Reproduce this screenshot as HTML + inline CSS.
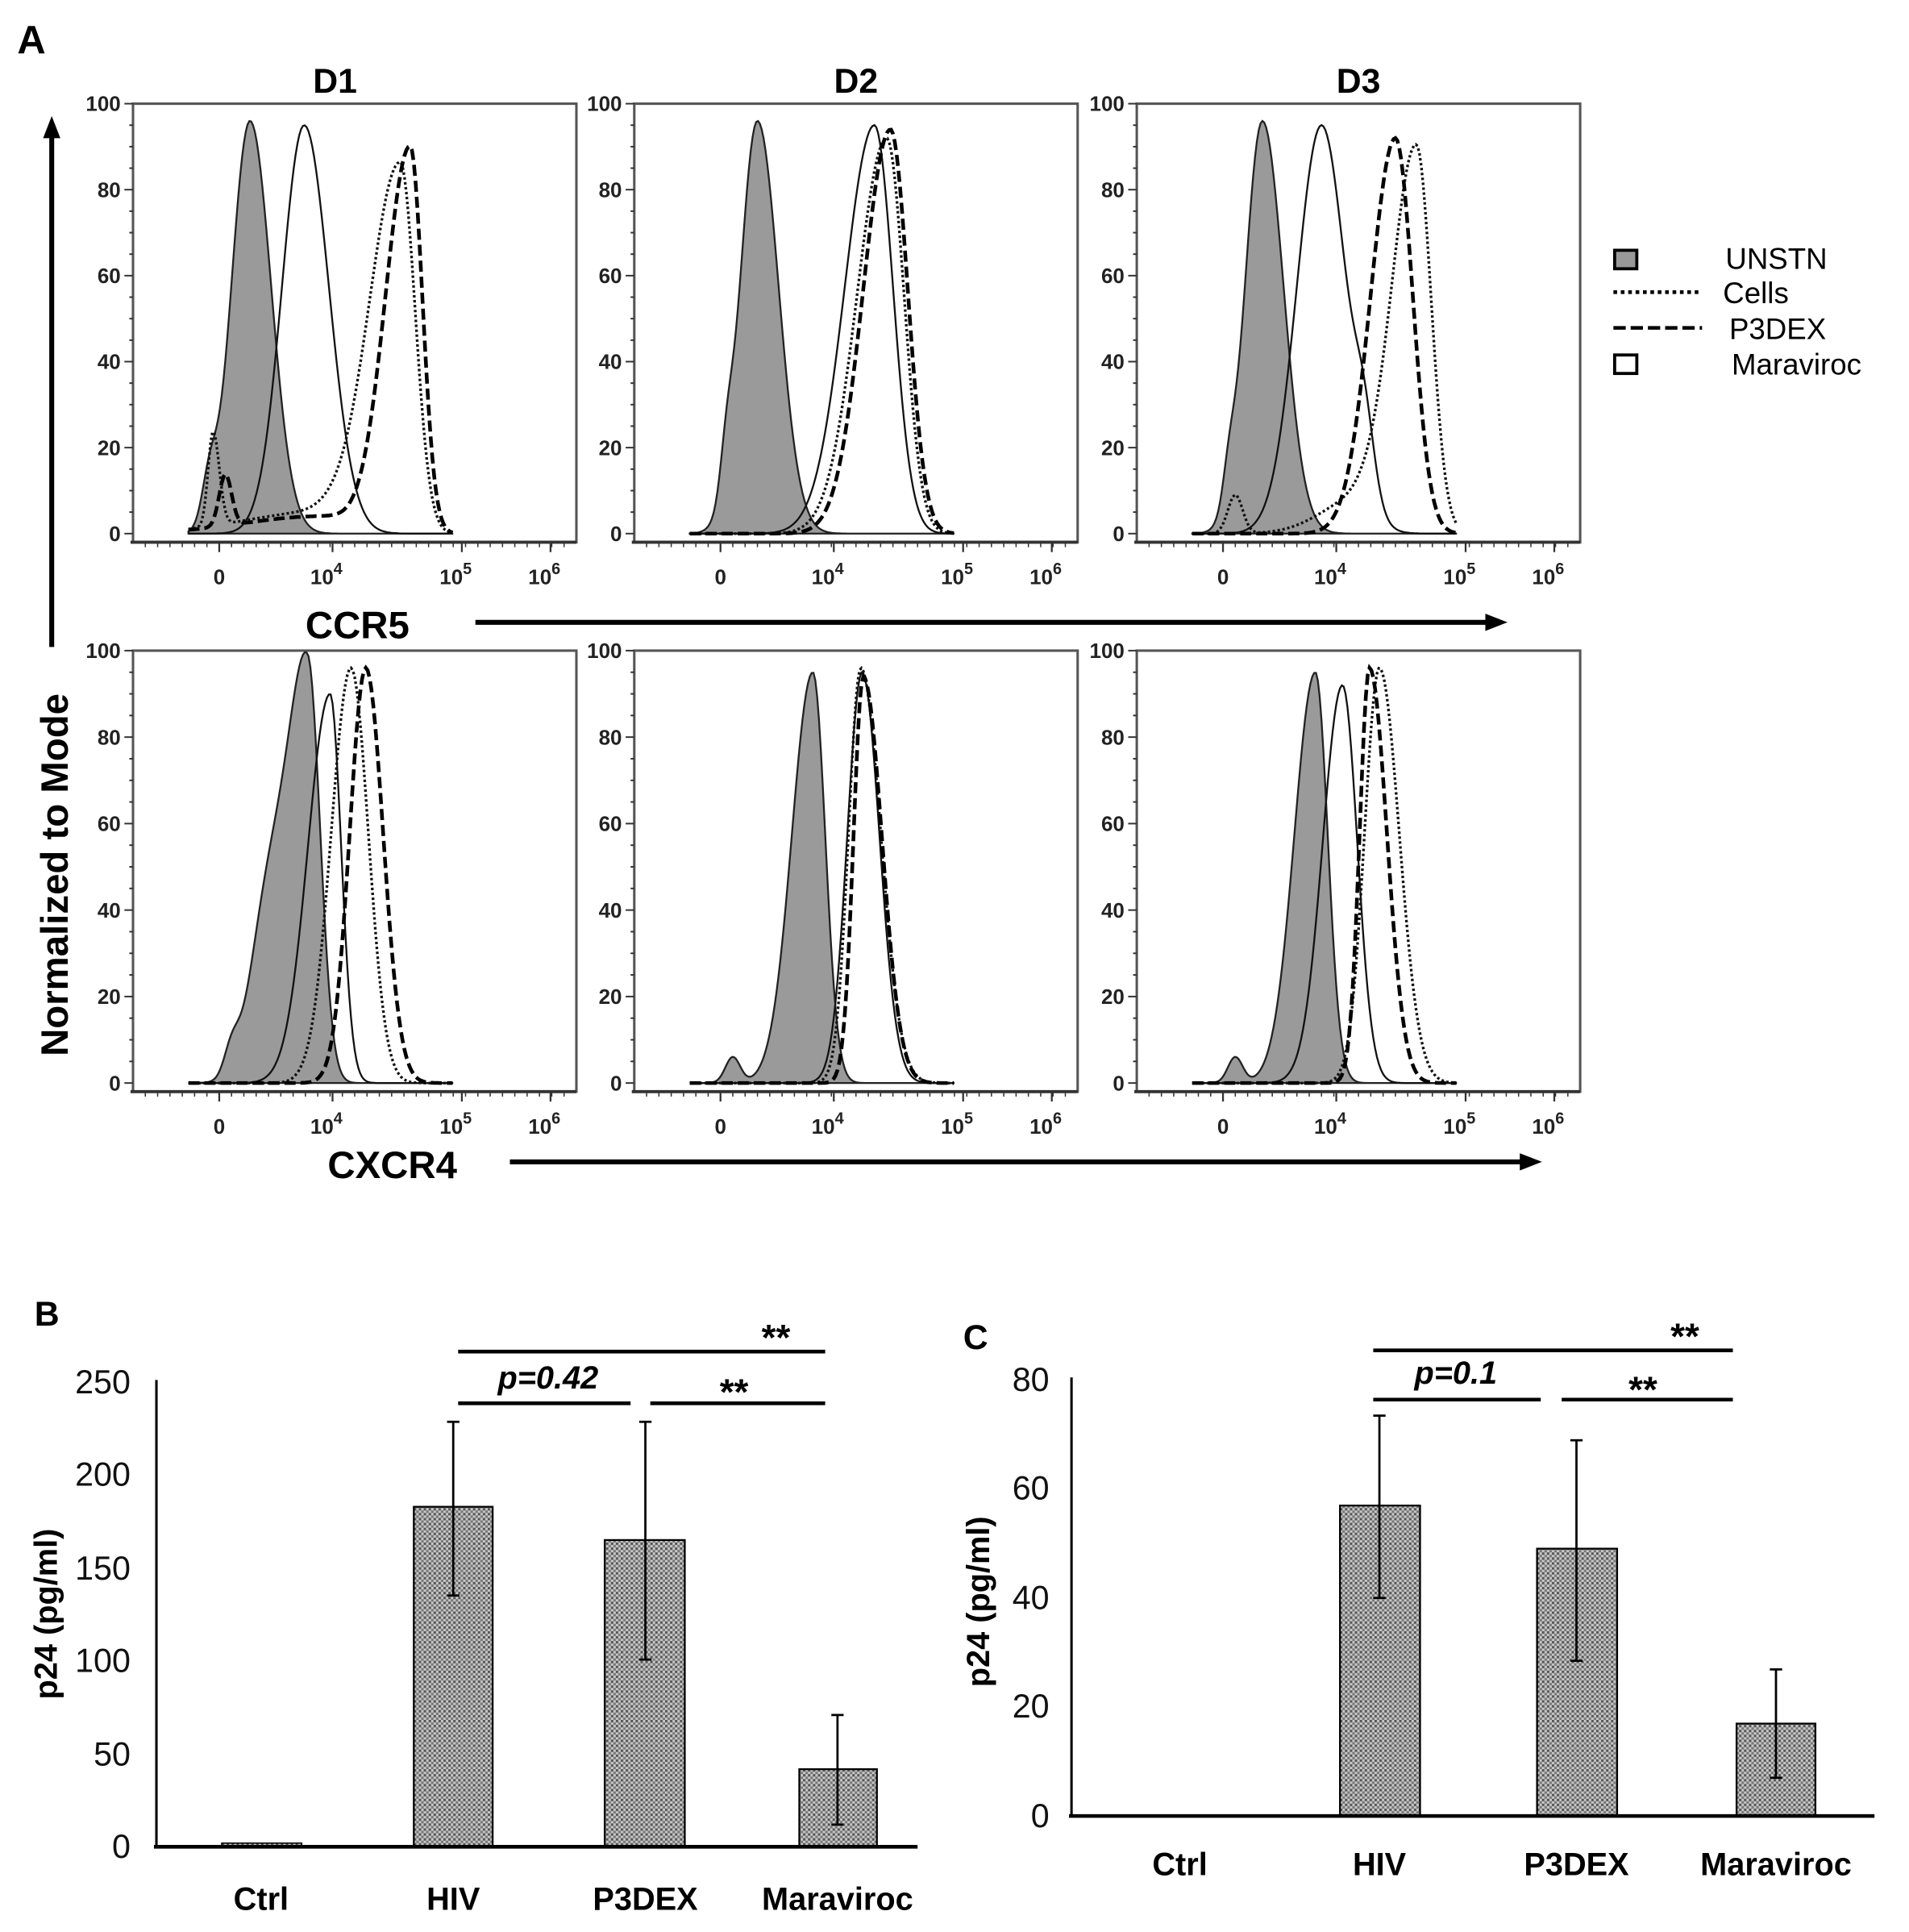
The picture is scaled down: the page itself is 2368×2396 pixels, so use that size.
<!DOCTYPE html>
<html><head><meta charset="utf-8">
<style>
html,body{margin:0;padding:0;background:#fff;}
svg{display:block;}
text{font-family:"Liberation Sans",Arial,sans-serif;}
.b{font-weight:bold;}
.tk{font-size:17px;font-weight:bold;fill:#222;}
.ax{font-size:27px;fill:#111;}
.cat{font-size:26px;font-weight:bold;}
</style></head>
<body>
<svg id="s" width="2368" height="2396" viewBox="0 0 1550 1568" xmlns="http://www.w3.org/2000/svg">
<defs>
<pattern id="pt" width="4" height="4" patternUnits="userSpaceOnUse">
<rect width="4" height="4" fill="#c8c8c8"/>
<rect width="2" height="2" fill="#555"/>
<rect x="2" y="2" width="2" height="2" fill="#777"/>
</pattern>
</defs>
<text x="14" y="43" class="b" font-size="32">A</text>
<text x="272" y="75" class="b" font-size="28" text-anchor="middle">D1</text>
<text x="695" y="75" class="b" font-size="28" text-anchor="middle">D2</text>
<text x="1103" y="75" class="b" font-size="28" text-anchor="middle">D3</text>
<g id="plots"></g>
<!-- axis labels / arrows -->
<line x1="42" y1="525" x2="42" y2="108" stroke="#000" stroke-width="4"/>
<polygon points="42,94 35,112 49,112" fill="#000"/>
<text transform="translate(55,710) rotate(-90)" class="b" font-size="31" text-anchor="middle">Normalized to Mode</text>
<text x="248" y="518" class="b" font-size="31">CCR5</text>
<line x1="386" y1="505" x2="1208" y2="505" stroke="#000" stroke-width="4"/>
<polygon points="1224,505 1206,498 1206,512" fill="#000"/>
<text x="266" y="956" class="b" font-size="31">CXCR4</text>
<line x1="414" y1="943" x2="1236" y2="943" stroke="#000" stroke-width="4"/>
<polygon points="1252,943 1234,936 1234,950" fill="#000"/>
<!-- legend -->
<rect x="1311" y="203" width="18" height="15" fill="#999" stroke="#000" stroke-width="2.5"/>
<text x="1401" y="218" font-size="24">UNSTN</text>
<line x1="1310" y1="237" x2="1382" y2="237" stroke="#000" stroke-width="3" stroke-dasharray="3,3"/>
<text x="1399" y="246" font-size="24">Cells</text>
<line x1="1310" y1="266" x2="1382" y2="266" stroke="#000" stroke-width="3" stroke-dasharray="10,4"/>
<text x="1404" y="275" font-size="24">P3DEX</text>
<rect x="1311" y="288" width="18" height="15" fill="#fff" stroke="#000" stroke-width="2.5"/>
<text x="1406" y="304" font-size="24">Maraviroc</text>

<!-- Panel B -->
<text x="28" y="1076" class="b" font-size="28">B</text>
<text transform="translate(46,1310) rotate(-90)" class="b" font-size="26" text-anchor="middle">p24 (pg/ml)</text>
<g class="ax" text-anchor="end">
<text x="106" y="1131">250</text><text x="106" y="1206">200</text><text x="106" y="1282">150</text>
<text x="106" y="1357">100</text><text x="106" y="1433">50</text><text x="106" y="1508">0</text>
</g>
<line x1="127" y1="1120" x2="127" y2="1500" stroke="#000" stroke-width="2"/>
<rect x="180" y="1496" width="65" height="3" fill="url(#pt)" stroke="#000"/>
<rect x="336" y="1223" width="64" height="276" fill="url(#pt)" stroke="#000" stroke-width="1.5"/>
<rect x="491" y="1250" width="65" height="249" fill="url(#pt)" stroke="#000" stroke-width="1.5"/>
<rect x="649" y="1436" width="63" height="63" fill="url(#pt)" stroke="#000" stroke-width="1.5"/>
<line x1="125" y1="1499" x2="745" y2="1499" stroke="#000" stroke-width="3"/>
<g stroke="#000" stroke-width="1.8">
<line x1="368" y1="1154" x2="368" y2="1295"/><line x1="363" y1="1154" x2="373" y2="1154"/><line x1="363" y1="1295" x2="373" y2="1295"/>
<line x1="524" y1="1154" x2="524" y2="1347"/><line x1="519" y1="1154" x2="529" y2="1154"/><line x1="519" y1="1347" x2="529" y2="1347"/>
<line x1="680" y1="1392" x2="680" y2="1481"/><line x1="675" y1="1392" x2="685" y2="1392"/><line x1="675" y1="1481" x2="685" y2="1481"/>
</g>
<g stroke="#000" stroke-width="3">
<line x1="372" y1="1097" x2="670" y2="1097"/>
<line x1="372" y1="1139" x2="512" y2="1139"/><line x1="528" y1="1139" x2="670" y2="1139"/>
</g>
<text x="630" y="1096" class="b" font-size="30" text-anchor="middle">**</text>
<text x="596" y="1140" class="b" font-size="30" text-anchor="middle">**</text>
<text x="445" y="1127" class="b" font-size="26" font-style="italic" text-anchor="middle">p=0.42</text>
<g class="cat" text-anchor="middle">
<text x="212" y="1550">Ctrl</text><text x="368" y="1550">HIV</text><text x="524" y="1550">P3DEX</text><text x="680" y="1550">Maraviroc</text>
</g>

<!-- Panel C -->
<text x="782" y="1095" class="b" font-size="28">C</text>
<text transform="translate(803,1300) rotate(-90)" class="b" font-size="26" text-anchor="middle">p24 (pg/ml)</text>
<g class="ax" text-anchor="end">
<text x="852" y="1129">80</text><text x="852" y="1217">60</text><text x="852" y="1306">40</text>
<text x="852" y="1394">20</text><text x="852" y="1483">0</text>
</g>
<line x1="870" y1="1118" x2="870" y2="1475" stroke="#000" stroke-width="2"/>
<rect x="1088" y="1222" width="65" height="252" fill="url(#pt)" stroke="#000" stroke-width="1.5"/>
<rect x="1248" y="1257" width="65" height="217" fill="url(#pt)" stroke="#000" stroke-width="1.5"/>
<rect x="1410" y="1399" width="64" height="75" fill="url(#pt)" stroke="#000" stroke-width="1.5"/>
<line x1="868" y1="1474" x2="1522" y2="1474" stroke="#000" stroke-width="3"/>
<g stroke="#000" stroke-width="1.8">
<line x1="1120" y1="1149" x2="1120" y2="1297"/><line x1="1115" y1="1149" x2="1125" y2="1149"/><line x1="1115" y1="1297" x2="1125" y2="1297"/>
<line x1="1280" y1="1169" x2="1280" y2="1348"/><line x1="1275" y1="1169" x2="1285" y2="1169"/><line x1="1275" y1="1348" x2="1285" y2="1348"/>
<line x1="1442" y1="1355" x2="1442" y2="1443"/><line x1="1437" y1="1355" x2="1447" y2="1355"/><line x1="1437" y1="1443" x2="1447" y2="1443"/>
</g>
<g stroke="#000" stroke-width="3">
<line x1="1115" y1="1096" x2="1407" y2="1096"/>
<line x1="1115" y1="1136" x2="1251" y2="1136"/><line x1="1268" y1="1136" x2="1407" y2="1136"/>
</g>
<text x="1368" y="1095" class="b" font-size="30" text-anchor="middle">**</text>
<text x="1334" y="1138" class="b" font-size="30" text-anchor="middle">**</text>
<text x="1182" y="1123" class="b" font-size="26" font-style="italic" text-anchor="middle">p=0.1</text>
<g class="cat" text-anchor="middle">
<text x="958" y="1522">Ctrl</text><text x="1120" y="1522">HIV</text><text x="1280" y="1522">P3DEX</text><text x="1442" y="1522">Maraviroc</text>
</g>
</svg>
<script>
(function(){
var NS="http://www.w3.org/2000/svg",g=document.getElementById("plots");
function el(n,a){var e=document.createElementNS(NS,n);for(var k in a)e.setAttribute(k,a[k]);g.appendChild(e);return e;}
function txt(x,y,t,a,cls,sup){var e=el("text",{x:x,y:y,"text-anchor":a,"class":cls});e.textContent=t;if(sup){var s=document.createElementNS(NS,"tspan");s.setAttribute("dy","-8");s.setAttribute("font-size","13");s.textContent=sup;e.appendChild(s);}return e;}
function curve(L,top,bot,comps){
  var pts=[];var h=(bot-top-7)/100;var base=bot-7;
  for(var rx=45;rx<=260;rx+=1.5){var v=0;
    comps.forEach(function(c){var s=rx<c[0]?c[2]:c[3];v+=c[1]*Math.exp(-0.5*Math.pow((rx-c[0])/s,2));});
    pts.push([L+rx,base-Math.min(v,100)*h]);}
  return "M"+pts.map(function(p){return p[0].toFixed(1)+","+p[1].toFixed(1);}).join("L");
}
var W=360;
var rows=[{top:84,bot:440},{top:528,bot:886}];
var lefts=[108,515,923];
var data=[
 [ {f:[[95,96,15,17],[62,10,6,6]],s:[[139,95,18,20]],d:[[217,86,25,12],[150,5,60,30],[65,22,4,5]],h:[[225,90,20,10],[150,4,60,30],[75,12,5,5]]},
   {f:[[100,96,14,17],[75,10,5,5]],s:[[195,95,24,15]],d:[[205,92,24,14]],h:[[208,94,22,14]]},
   {f:[[102,96,14,17],[75,8,5,5]],s:[[150,95,20,20],[185,15,8,8]],d:[[227,90,20,12],[180,8,30,20],[80,9,6,6]],h:[[210,92,20,14]]} ],
 [ {f:[[142,95,16,10],[80,6,6,6],[110,40,15,15]],s:[[160,90,18,9]],d:[[177,96,16,14]],h:[[189,96,13,14]]},
   {f:[[145,95,17,10],[80,6,6,6]],s:[[185,95,12,14]],d:[[184,96,10,16]],h:[[186,94,8,15]]},
   {f:[[145,95,17,10],[80,6,6,6]],s:[[167,92,16,12]],d:[[197,96,12,16]],h:[[189,96,8,14]]} ]
];
rows.forEach(function(r,ri){lefts.forEach(function(L,ci){
  var top=r.top,bot=r.bot,base=bot-7,h=(bot-top-7)/100,D=data[ri][ci];
  el("rect",{x:L,y:top,width:W,height:bot-top,fill:"#fff",stroke:"#555","stroke-width":2});
  for(var v=0;v<=100;v+=5){var y=base-v*h;el("line",{x1:L-(v%20?3:7),y1:y,x2:L,y2:y,stroke:"#333","stroke-width":1.3});}
  for(var v=0;v<=100;v+=20){txt(L-10,base-v*h+6,String(v),"end","tk");}
  var xs=[[70,"0",""],[162,"10","4"],[267,"10","5"],[339,"10","6"]];
  xs.forEach(function(t){el("line",{x1:L+t[0],y1:bot,x2:L+t[0],y2:bot+8,stroke:"#333","stroke-width":1.5});txt(L+t[0]-(t[2]?5:0),bot+34,t[1],"middle","tk",t[2]);});
  for(var k=10;k<W;k+=10){el("line",{x1:L+k,y1:bot,x2:L+k,y2:bot+4,stroke:"#333","stroke-width":1});}
  var pf=curve(L,top,bot,D.f);
  el("path",{d:pf+"L"+(L+260)+","+base+"L"+(L+45)+","+base+"Z",fill:"#9a9a9a",stroke:"#222","stroke-width":1.5});
  el("path",{d:curve(L,top,bot,D.s),fill:"none",stroke:"#111","stroke-width":1.5});
  el("path",{d:curve(L,top,bot,D.d),fill:"none",stroke:"#111","stroke-width":2.2,"stroke-dasharray":"2,2"});
  el("path",{d:curve(L,top,bot,D.h),fill:"none",stroke:"#000","stroke-width":3,"stroke-dasharray":"9,4"});
  el("line",{x1:L-2,y1:bot,x2:L+W,y2:bot,stroke:"#333","stroke-width":2.5});
});});
})();
</script>
</body></html>
